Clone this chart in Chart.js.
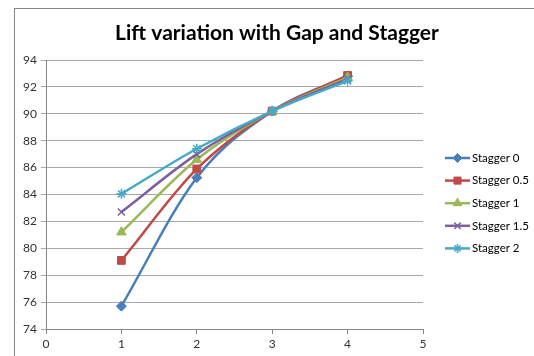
<!DOCTYPE html>
<html>
<head>
<meta charset="utf-8">
<script src="https://cdn.jsdelivr.net/npm/chart.js@4.4.1/dist/chart.umd.min.js"></script>
<style>
  html, body { margin: 0; padding: 0; background: #fff; overflow: hidden; }
  #wrap { position: relative; width: 534px; height: 356px; }
  #frame { position: absolute; left: 14px; top: 8px; width: 600px; height: 400px; border: 1px solid #868686; box-sizing: border-box; }
  canvas { position: absolute; left: 0; top: 0; }
</style>
</head>
<body>
<div id="wrap">
  <div id="frame"></div>
  <canvas id="chart" width="534" height="356"></canvas>
</div>
<script>
// gap values (x) and lift for each stagger
var gap = [1, 2, 3, 4];
var stagger0 = [75.7, 85.25, 90.2, 92.8];
var stagger05 = [79.1, 85.9, 90.2, 92.85];
var stagger1 = [81.2, 86.6, 90.2, 92.7];
var stagger15 = [82.7, 87.0, 90.2, 92.6];
var stagger2 = [84.05, 87.4, 90.2, 92.45];
var seriesNames = ['Stagger 0', 'Stagger 0.5', 'Stagger 1', 'Stagger 1.5', 'Stagger 2'];
var xTicks = [0, 1, 2, 3, 4, 5];
var yTicks = [74, 76, 78, 80, 82, 84, 86, 88, 90, 92, 94];
var titleText = 'Lift variation with Gap and Stagger';

var colors = ['#4A7EBB', '#BE4B48', '#98B954', '#7D60A0', '#46AAC5'];
var styles = ['rectRot', 'rect', 'triangle', 'crossRot', 'star'];
var radii = [5, 5.5, 5.5, 5, 5];

function pts(ys) {
  return gap.map(function (g, i) { return { x: g, y: ys[i] }; });
}
var allSeries = [stagger0, stagger05, stagger1, stagger15, stagger2];

var datasets = [];
for (var i = 0; i < allSeries.length; i++) {
  datasets.push({
    label: seriesNames[i],
    data: pts(allSeries[i]),
    showLine: true,
    borderColor: colors[i],
    backgroundColor: colors[i],
    borderWidth: 2.5,
    pointStyle: styles[i],
    pointRadius: radii[i],
    pointBorderWidth: (styles[i] === 'crossRot' || styles[i] === 'star') ? 1.5 : 1,
    pointBorderColor: colors[i],
    pointBackgroundColor: colors[i],
    cubicInterpolationMode: 'monotone',
    order: allSeries.length - i
  });
}

// title centred on the whole chart box, legend with line + marker samples
var decor = {
  id: 'decor',
  afterDraw: function (chart) {
    var ctx = chart.ctx;
    var area = chart.chartArea;
    ctx.save();
    ctx.fillStyle = '#000';
    ctx.font = 'bold 21px Lato';
    ctx.textAlign = 'center';
    ctx.textBaseline = 'middle';
    ctx.fillText(titleText, 277, 33);

    var x0 = area.right + 22;
    var y0 = 158;
    chart.data.datasets.forEach(function (ds, i) {
      var y = y0 + i * 22.6;
      ctx.strokeStyle = ds.borderColor;
      ctx.lineWidth = 2.5;
      ctx.beginPath();
      ctx.moveTo(x0, y);
      ctx.lineTo(x0 + 25, y);
      ctx.stroke();
      ctx.fillStyle = ds.backgroundColor;
      ctx.lineWidth = ds.pointBorderWidth;
      Chart.helpers.drawPoint(ctx, { pointStyle: ds.pointStyle, radius: ds.pointRadius - 0.5, rotation: 0, borderWidth: ds.pointBorderWidth }, x0 + 12.5, y);
      ctx.fillStyle = '#000';
      ctx.font = '11.5px Lato';
      ctx.textBaseline = 'middle';
      ctx.textAlign = 'left';
      ctx.fillText(ds.label, x0 + 27, y);
    });
    ctx.restore();
  }
};

new Chart(document.getElementById('chart').getContext('2d'), {
  type: 'scatter',
  data: { datasets: datasets },
  plugins: [decor],
  options: {
    responsive: false,
    animation: false,
    layout: { padding: { left: 0, right: 111, top: 60, bottom: 0 } },
    plugins: {
      legend: { display: false },
      tooltip: { enabled: false },
      title: { display: false }
    },
    scales: {
      x: {
        type: 'linear',
        min: xTicks[0],
        max: xTicks[xTicks.length - 1],
        afterBuildTicks: function (s) { s.ticks = xTicks.map(function (v) { return { value: v }; }); },
        afterFit: function (s) { s.height = 27; },
        ticks: { color: '#333', font: { family: 'Lato', size: 12 }, padding: 3, maxRotation: 0 },
        grid: { drawOnChartArea: false, drawTicks: true, tickLength: 5, color: '#868686' },
        border: { color: '#868686', width: 1 }
      },
      y: {
        type: 'linear',
        min: yTicks[0],
        max: yTicks[yTicks.length - 1],
        afterBuildTicks: function (s) { s.ticks = yTicks.map(function (v) { return { value: v }; }); },
        afterFit: function (s) { s.width = 46; },
        ticks: { color: '#333', font: { family: 'Lato', size: 12 }, padding: 4 },
        grid: { color: '#A8A8A8', tickLength: 5, drawTicks: true },
        border: { color: '#868686', width: 1 }
      }
    }
  }
});
</script>
</body>
</html>
